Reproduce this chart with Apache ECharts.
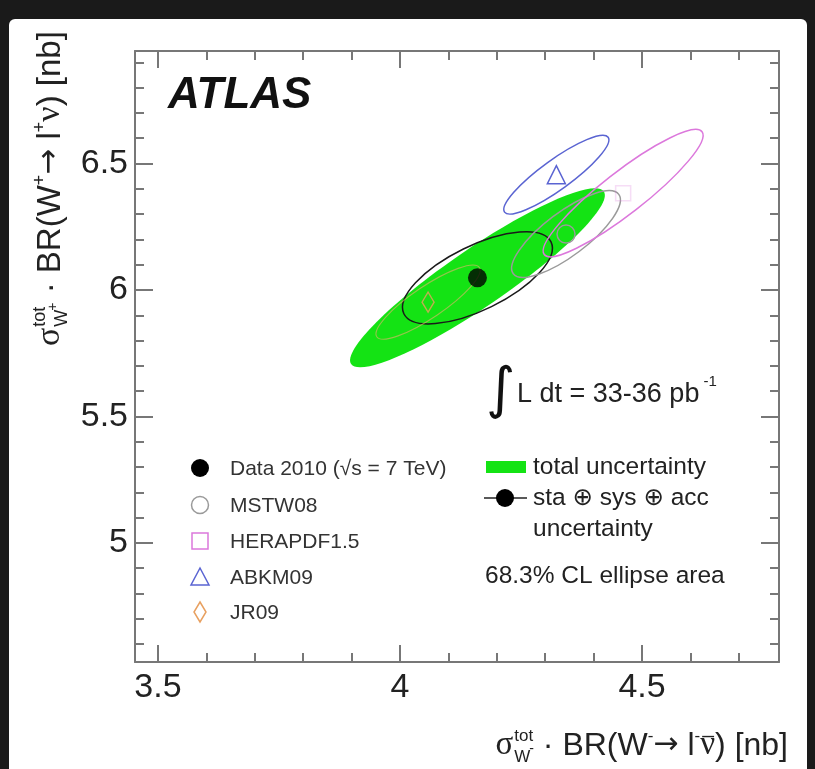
<!DOCTYPE html>
<html><head><meta charset="utf-8">
<script src="https://cdn.jsdelivr.net/npm/echarts@6/dist/echarts.min.js"></script>
<style>html,body{margin:0;padding:0;background:#1a1a1a;}#c{width:815px;height:769px;}</style>
</head><body><div id="c"></div>
<script>
// ---- axis ranges and ticks ----
const xRange = [3.4525, 4.783];
const yRange = [4.529, 6.945];
const xMajorTicks = [3.5, 4, 4.5];
const xMinorTicks = [3.6, 3.7, 3.8, 3.9, 4.1, 4.2, 4.3, 4.4, 4.6, 4.7];
const yMajorTicks = [5, 5.5, 6, 6.5];
const yMinorTicks = [4.6, 4.7, 4.8, 4.9, 5.1, 5.2, 5.3, 5.4, 5.6, 5.7, 5.8, 5.9, 6.1, 6.2, 6.3, 6.4, 6.6, 6.7, 6.8, 6.9];

// ---- measurement and predictions (nb) ----
const dataWMinus = [4.160];
const dataWPlus = [6.048];
const modelNames = ['MSTW08', 'HERAPDF1.5', 'ABKM09', 'JR09'];
const modelWMinus = [4.343, 4.461, 4.323, 4.058];
const modelWPlus = [6.221, 6.383, 6.456, 5.952];

// ---- 68.3% CL ellipses: centre, end of major axis, end of minor axis ----
const ellipseNames = ['total uncertainty', 'sta+sys+acc', 'MSTW08', 'HERAPDF1.5', 'ABKM09', 'JR09'];
const ellipseCenterX = [4.160, 4.160, 4.343, 4.461, 4.323, 4.058];
const ellipseCenterY = [6.048, 6.048, 6.221, 6.383, 6.456, 5.952];
const ellipseMajorX = [4.421, 4.312, 4.452, 4.624, 4.430, 4.164];
const ellipseMajorY = [6.389, 6.190, 6.378, 6.626, 6.604, 6.089];
const ellipseMinorX = [4.126, 4.131, 4.316, 4.434, 4.305, 4.040];
const ellipseMinorY = [6.142, 6.162, 6.290, 6.448, 6.504, 6.004];

const FONT = '"Liberation Sans","DejaVu Sans",Arial,sans-serif';
const SERIF = '"Liberation Serif","DejaVu Serif",serif';
const ARROWFONT = '"DejaVu Sans",sans-serif';
const AX = '#777';
const GREEN = '#14e314';
const ellipseStyles = [
  {fill: GREEN, stroke: null, lw: 0, op: 1},
  {fill: null, stroke: '#1a1a1a', lw: 1.5, op: 1},
  {fill: null, stroke: '#9a9a9a', lw: 1.5, op: 1},
  {fill: null, stroke: '#dc78dc', lw: 1.5, op: 1},
  {fill: null, stroke: '#5a64d2', lw: 1.5, op: 1},
  {fill: null, stroke: '#e8b070', lw: 1.1, op: 0.6}
];
const modelStyles = [
  {symbol: 'circle', size: 18, color: '#9a9a9a', op: 1},
  {symbol: 'rect', size: 15, color: '#dc78dc', op: 0.25},
  {symbol: 'triangle', size: 18, color: '#5a64d2', op: 1},
  {symbol: 'diamond', size: [12, 20], color: '#e8a060', op: 0.8}
];

function xAxis(pos, ticks, len, line, label) {
  return {type: 'value', position: pos, min: xRange[0], max: xRange[1], gridIndex: 0,
    axisLine: {show: line, onZero: false, lineStyle: {color: AX, width: 2}},
    axisTick: {show: true, inside: true, length: len, customValues: ticks, lineStyle: {color: AX, width: 2}},
    axisLabel: {show: label, customValues: ticks, fontFamily: FONT, fontSize: 34, color: '#222', margin: 9,
      formatter: v => String(v)},
    splitLine: {show: false}};
}
function yAxis(pos, ticks, len, line, label) {
  return {type: 'value', position: pos, min: yRange[0], max: yRange[1], gridIndex: 0,
    axisLine: {show: line, onZero: false, lineStyle: {color: AX, width: 2}},
    axisTick: {show: true, inside: true, length: len, customValues: ticks, lineStyle: {color: AX, width: 2}},
    axisLabel: {show: label, customValues: ticks, fontFamily: FONT, fontSize: 34, color: '#222', margin: 7,
      formatter: v => String(v)},
    splitLine: {show: false}};
}

function ellipseSeries(i) {
  const st = ellipseStyles[i];
  return {type: 'custom', name: ellipseNames[i], xAxisIndex: 0, yAxisIndex: 0, silent: true, z: 2 + i,
    data: [[ellipseCenterX[i], ellipseCenterY[i], ellipseMajorX[i], ellipseMajorY[i], ellipseMinorX[i], ellipseMinorY[i]]],
    renderItem: function (params, api) {
      const c = api.coord([api.value(0), api.value(1)]);
      const a = api.coord([api.value(2), api.value(3)]);
      const b = api.coord([api.value(4), api.value(5)]);
      const rx = Math.hypot(a[0] - c[0], a[1] - c[1]);
      const ry = Math.hypot(b[0] - c[0], b[1] - c[1]);
      const rot = Math.atan2(c[1] - a[1], a[0] - c[0]);
      return {type: 'ellipse', x: c[0], y: c[1], rotation: rot,
        shape: {cx: 0, cy: 0, rx: rx, ry: ry},
        style: {fill: st.fill || 'none', stroke: st.stroke || 'none', lineWidth: st.lw, opacity: st.op}};
    }};
}

const series = [];
for (let i = 0; i < ellipseNames.length; i++) series.push(ellipseSeries(i));
for (let i = 0; i < modelNames.length; i++) {
  const ms = modelStyles[i];
  series.push({type: 'scatter', name: modelNames[i], xAxisIndex: 0, yAxisIndex: 0, z: 12,
    data: [[modelWMinus[i], modelWPlus[i]]], symbol: ms.symbol, symbolSize: ms.size,
    itemStyle: {color: 'rgba(0,0,0,0)', borderColor: ms.color, borderWidth: 1.5, opacity: ms.op}});
}
series.push({type: 'scatter', name: 'Data 2010', xAxisIndex: 0, yAxisIndex: 0, z: 13,
  data: [[dataWMinus[0], dataWPlus[0]]], symbol: 'circle', symbolSize: 19,
  itemStyle: {color: '#000'}});

// ---- text helpers ----
const mctx = document.createElement('canvas').getContext('2d');
function tw(t, size, fam, weight) {
  mctx.font = (weight || '') + ' ' + size + 'px ' + (fam || FONT);
  return mctx.measureText(t).width;
}
function txt(t, x, y, size, opts) {
  opts = opts || {};
  return {type: 'text', x: x, y: y, z: 100, silent: true,
    style: {text: t, fontSize: size, fontFamily: opts.fam || FONT, fontWeight: opts.weight || 'normal',
      fontStyle: opts.style || 'normal', fill: opts.color || '#222',
      align: opts.align || 'left', textAlign: opts.align || 'left',
      verticalAlign: 'middle', textVerticalAlign: 'middle'}};
}
// lay out a formula along a baseline starting at local (0,0)
function formula(pieces) {
  const els = []; let x = 0;
  for (const p of pieces) {
    const fam = p.fam || FONT;
    const w = tw(p.t, p.s, fam);
    els.push(txt(p.t, x + (p.dx || 0), (p.dy || 0) - 0.35 * p.s, p.s, {fam: fam, color: '#222'}));
    if (p.bar) {
      els.push({type: 'line', z: 100, silent: true,
        shape: {x1: x + 2, y1: -0.62 * p.s, x2: x + w - 1, y2: -0.62 * p.s},
        style: {stroke: '#222', lineWidth: 1.4}});
    }
    if (!p.keep) x += w;
  }
  return {els: els, width: x};
}
const xTitlePieces = [
  {t: 'σ', s: 33, fam: SERIF},
  {t: 'tot', s: 17, dy: -15, keep: true, dx: 1},
  {t: 'W', s: 17, dy: 6, dx: 1},
  {t: '-', s: 14, dy: -3},
  {t: ' · BR(W', s: 32},
  {t: '-', s: 17, dy: -15},
  {t: '→', s: 30, fam: ARROWFONT, dy: -1},
  {t: ' l', s: 32},
  {t: '-', s: 17, dy: -15},
  {t: 'ν', s: 33, fam: SERIF, bar: true},
  {t: ') [nb]', s: 32}
];
const yTitlePieces = [
  {t: 'σ', s: 34, fam: SERIF},
  {t: 'tot', s: 18, dy: -16, keep: true, dx: 1},
  {t: 'W', s: 18, dy: 6, dx: 1},
  {t: '+', s: 14, dy: -4},
  {t: ' · BR(W', s: 33},
  {t: '+', s: 18, dy: -16},
  {t: '→', s: 31, fam: ARROWFONT, dy: -1},
  {t: ' l', s: 33},
  {t: '+', s: 18, dy: -16},
  {t: 'ν', s: 34, fam: SERIF},
  {t: ') [nb]', s: 33}
];
const xTitle = formula(xTitlePieces);
const yTitle = formula(yTitlePieces);
const lumiText = 'L dt = 33-36 pb';
const lumiW = tw(lumiText, 27);

const graphic = [
  {type: 'rect', z: -100, silent: true, shape: {x: 9, y: 19, width: 798, height: 760, r: 6}, style: {fill: '#ffffff'}},
  {type: 'group', x: 788 - xTitle.width, y: 757, children: xTitle.els},
  {type: 'group', x: 62, y: 346, rotation: Math.PI / 2, children: yTitle.els},
  txt('ATLAS', 168, 96, 44, {weight: 'bold', style: 'italic', color: '#111'}),
  txt('∫', 486, 392, 56, {fam: '"DejaVu Sans",sans-serif', color: '#111'}),
  txt(lumiText, 517, 395, 27),
  txt('-1', 517 + lumiW + 4, 382, 15),
  // left legend
  {type: 'circle', z: 100, silent: true, shape: {cx: 200, cy: 468, r: 9}, style: {fill: '#000'}},
  {type: 'circle', z: 100, silent: true, shape: {cx: 200, cy: 505, r: 8.5}, style: {fill: 'none', stroke: '#9a9a9a', lineWidth: 1.5}},
  {type: 'rect', z: 100, silent: true, shape: {x: 192, y: 533, width: 16, height: 16}, style: {fill: 'none', stroke: '#dc78dc', lineWidth: 1.5}},
  {type: 'polygon', z: 100, silent: true, shape: {points: [[200, 568], [191, 585], [209, 585]]}, style: {fill: 'none', stroke: '#5a64d2', lineWidth: 1.5}},
  {type: 'polygon', z: 100, silent: true, shape: {points: [[200, 602], [206, 612], [200, 622], [194, 612]]}, style: {fill: 'none', stroke: '#e8a060', lineWidth: 1.5}},
  txt('Data 2010 (√s = 7 TeV)', 230, 469, 21, {color: '#333'}),
  txt('MSTW08', 230, 506, 21, {color: '#333'}),
  txt('HERAPDF1.5', 230, 542, 21, {color: '#333'}),
  txt('ABKM09', 230, 578, 21, {color: '#333'}),
  txt('JR09', 230, 613, 21, {color: '#333'}),
  // right legend
  {type: 'rect', z: 100, silent: true, shape: {x: 486, y: 461, width: 40, height: 12}, style: {fill: GREEN}},
  {type: 'line', z: 100, silent: true, shape: {x1: 484, y1: 498, x2: 527, y2: 498}, style: {stroke: '#222', lineWidth: 1.5}},
  {type: 'circle', z: 100, silent: true, shape: {cx: 505, cy: 498, r: 9}, style: {fill: '#000'}},
  txt('total uncertainty', 533, 467, 24.5),
  txt('sta ⊕ sys ⊕ acc', 533, 498, 24.5),
  txt('uncertainty', 533, 529, 24.5),
  txt('68.3% CL ellipse area', 485, 576, 24.5)
];

const chart = echarts.init(document.getElementById('c'), null, {renderer: 'canvas'});
chart.setOption({
  animation: false,
  backgroundColor: '#1a1a1a',
  grid: {left: 135, top: 51, right: 36, bottom: 107, containLabel: false},
  xAxis: [
    xAxis('bottom', xMajorTicks, 17, true, true),
    xAxis('bottom', xMinorTicks, 9, false, false),
    xAxis('top', xMajorTicks, 17, true, false),
    xAxis('top', xMinorTicks, 9, false, false)
  ],
  yAxis: [
    yAxis('left', yMajorTicks, 18, true, true),
    yAxis('left', yMinorTicks, 9, false, false),
    yAxis('right', yMajorTicks, 18, true, false),
    yAxis('right', yMinorTicks, 9, false, false)
  ],
  series: series,
  graphic: graphic
});
</script></body></html>
